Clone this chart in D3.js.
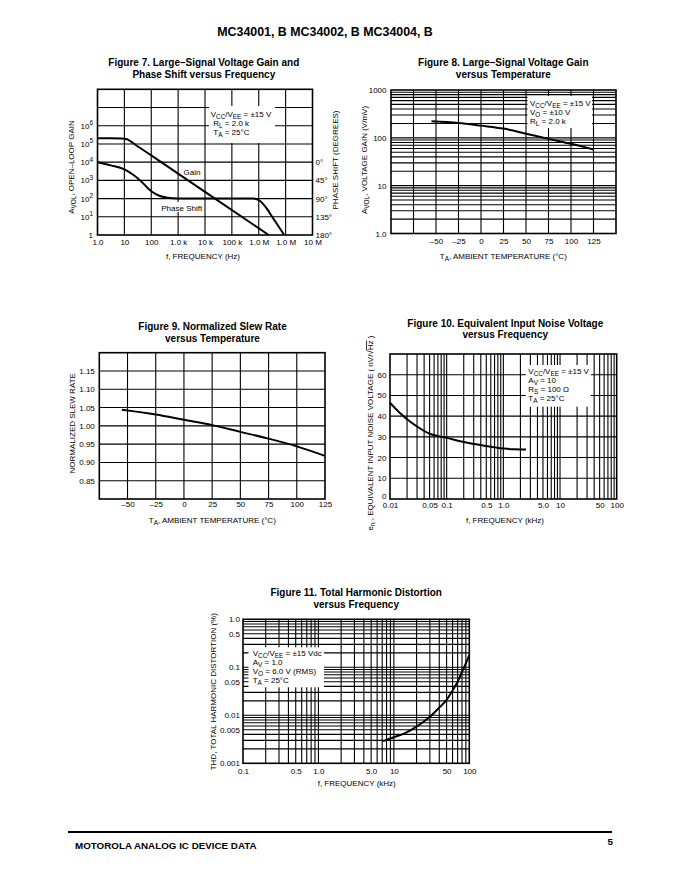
<!DOCTYPE html>
<html><head><meta charset="utf-8">
<script src="https://cdn.jsdelivr.net/npm/d3@7"></script>
<style>body{margin:0;background:#fff}svg{display:block}</style>
</head><body><svg id="c" width="680" height="880"></svg>
<script>
// ---------- DATA ----------
// Figure 7
const f7FreqTicks = [1,10,100,1e3,1e4,1e5,1e6,1e7,1e8];
const f7FreqLabels = ["1.0","10","100","1.0 k","10 k","100 k","1.0 M","1.0 M","10 M"];
const f7GainTicks = [1,10,100,1e3,1e4,1e5,1e6];
const f7GainExp = ["","1","2","3","4","5","6"];
const f7PhaseTicks = [0,45,90,135,180];
const gainFreq = [1,3.16,7.9,12.6,17.8,25.1,100,1e4,2.34e6];
const gainVals = [2.05e5,2.05e5,2.02e5,1.8e5,1.33e5,9.3e4,2.34e4,234,1];
const phaseFreq = [1,3.16,10,20,40,100,200,400,1000,6.3e5,1.12e6,2e6,3.16e6,8.9e6];
const phaseDeg = [0,8,18,30,46,72,83,88,90,90,96,115,135,180];
// Figure 8
const f8TempTicks = [-50,-25,0,25,50,75,100,125];
const f8GainTicks = [1,10,100,1000];
const f8GainLabels = ["1.0","10","100","1000"];
const f8Temp = [-55,-25,0,25,50,75,100,125];
const f8Gain = [222,205,180,156,122,95,75,57];
// Figure 9
const f9TempTicks = [-50,-25,0,25,50,75,100,125];
const f9SlewTicks = [0.85,0.90,0.95,1.00,1.05,1.10,1.15];
const f9Temp = [-55,-25,0,25,50,75,100,125];
const f9Slew = [1.044,1.031,1.0165,1.002,0.9835,0.965,0.944,0.918];
// Figure 10
const f10FreqTicks = [0.01,0.05,0.1,0.5,1,5,10,50,100];
const f10FreqLabels = ["0.01","0.05","0.1","0.5","1.0","5.0","10","50","100"];
const f10NoiseTicks = [0,10,20,30,40,50,60];
const f10Freq = [0.01,0.015,0.02,0.03,0.05,0.1,0.2,0.5,1.0,1.5,2.5];
const f10Noise = [46.5,41.5,38.5,35,31.5,29.5,27.5,25.6,24.4,24,23.9];
// Figure 11
const f11FreqTicks = [0.1,0.5,1,5,10,50,100];
const f11FreqLabels = ["0.1","0.5","1.0","5.0","10","50","100"];
const f11ThdTicks = [0.001,0.005,0.01,0.05,0.1,0.5,1.0];
const f11ThdLabels = ["0.001","0.005","0.01","0.05","0.1","0.5","1.0"];
const f11Freq = [7.2,10,13.4,20,30,40,50,60,70,80,90,100];
const f11Thd = [0.0029,0.0035,0.0041,0.0058,0.0093,0.0145,0.021,0.033,0.05,0.08,0.12,0.18];

// ---------- HELPERS ----------
const NARROW = "'Liberation Sans Narrow','Liberation Sans',Arial,sans-serif";
const BOLD = "'Liberation Sans',Arial,Helvetica,sans-serif";
const svg = d3.select('#c');
svg.append('rect').attr('width',680).attr('height',880).attr('fill','#fff');

function rich(g, x, y, parts, opt={}) {
  const size = opt.size || 8;
  const t = g.append('text').attr('x',x).attr('y',y)
    .attr('font-family',NARROW).attr('font-size',size).attr('fill','#000');
  if (opt.anchor) t.attr('text-anchor',opt.anchor);
  if (opt.transform) t.attr('transform',opt.transform);
  let shift = 0;
  parts.forEach(p => {
    const [s,mode] = Array.isArray(p) ? p : [p,null];
    const sp = t.append('tspan').text(s);
    const target = mode==='sub' ? size*0.3 : mode==='sup' ? -size*0.45 : 0;
    const dy = target - shift;
    if (dy) sp.attr('dy',dy);
    shift = target;
    if (mode==='sub'||mode==='sup') sp.attr('font-size',size*0.8);
    if (mode==='over') sp.attr('text-decoration','overline');
  });
  return t;
}
function logMinor(lo, hi) {
  const out=[]; const a=Math.round(Math.log10(lo)), b=Math.round(Math.log10(hi));
  for (let e=a;e<b;e++) for (let k=1;k<10;k++) out.push(+(k*Math.pow(10,e)).toPrecision(6));
  out.push(hi); return out;
}
function vgrid(g, xs, vals, y0, y1, w=1.1) {
  g.append('g').selectAll('line').data(vals).join('line')
   .attr('x1',d=>xs(d)).attr('x2',d=>xs(d)).attr('y1',y0).attr('y2',y1)
   .attr('stroke','#000').attr('stroke-width',w);
}
function hgrid(g, ys, vals, x0, x1, w=1.1) {
  g.append('g').selectAll('line').data(vals).join('line')
   .attr('y1',d=>ys(d)).attr('y2',d=>ys(d)).attr('x1',x0).attr('x2',x1)
   .attr('stroke','#000').attr('stroke-width',w);
}
function frame(g, xs, ys) {
  const [x0,x1]=xs.range(), [y0,y1]=ys.range();
  g.append('rect').attr('x',Math.min(x0,x1)).attr('y',Math.min(y0,y1))
   .attr('width',Math.abs(x1-x0)).attr('height',Math.abs(y1-y0))
   .attr('fill','none').attr('stroke','#000').attr('stroke-width',1.6);
}
function styleAxis(sel) {
  sel.select('.domain').remove();
  sel.attr('font-family',NARROW).attr('font-size',8);
  sel.selectAll('text').attr('fill','#000');
}
function bottomAxis(g, xs, ticks, labels, y, pad) {
  return g.append('g').attr('transform',`translate(0,${y})`)
   .call(d3.axisBottom(xs).tickValues(ticks).tickFormat((d,i)=>labels?labels[i]:d).tickSize(0).tickPadding(pad))
   .call(styleAxis);
}
function leftAxis(g, ys, ticks, labels, x, pad) {
  return g.append('g').attr('transform',`translate(${x},0)`)
   .call(d3.axisLeft(ys).tickValues(ticks).tickFormat((d,i)=>labels?labels[i]:d).tickSize(0).tickPadding(pad))
   .call(styleAxis);
}
function title(g, cx, y, l1, l2) {
  [l1,l2].forEach((s,i)=>g.append('text').attr('x',cx).attr('y',y+i*11.7)
    .attr('text-anchor','middle').attr('font-family',BOLD).attr('font-weight','bold')
    .attr('font-size',10).attr('fill','#000').text(s));
}
function box(g, x, y, w, h) {
  g.append('rect').attr('x',x).attr('y',y).attr('width',w).attr('height',h).attr('fill','#fff');
}
function curve(g, xs, ys, X, Y, w=2) {
  const pts = X.map((x,i)=>[xs(x), ys(Y[i])]);
  g.append('path').attr('d', d3.line().curve(d3.curveMonotoneX)(pts))
   .attr('fill','none').attr('stroke','#000').attr('stroke-width',w).attr('stroke-linejoin','round');
}
function yTitle(g, x, y, parts) {
  rich(g, 0, 0, parts, {anchor:'middle', transform:`translate(${x},${y}) rotate(-90)`});
}

// ---------- HEADER ----------
svg.append('text').attr('x',325).attr('y',36.3).attr('text-anchor','middle')
  .attr('font-family',BOLD).attr('font-weight','bold').attr('font-size',12.4).attr('fill','#000')
  .text('MC34001, B MC34002, B MC34004, B');

// ---------- FIGURE 7 ----------
{
  const g = svg.append('g');
  const xs = d3.scaleLog().domain([1,1e8]).range([97.5,312.5]);
  const ys = d3.scaleLog().domain([1,1e8]).range([235,89.3]);
  const ps = d3.scaleLinear().domain([0,180]).range([ys(1e4), ys(1)]);
  title(g, 203.8, 66, 'Figure 7. Large–Signal Voltage Gain and', 'Phase Shift versus Frequency');
  vgrid(g, xs, f7FreqTicks.slice(1,-1), 89.3, 235);
  hgrid(g, ys, [10,100,1e3,1e4,1e5,1e6,1e7], 97.5, 312.5);
  box(g, 209, 106, 66, 37);
  rich(g, 210.7, 116.5, ['V',['CC','sub'],'/V',['EE','sub'],' = ±15 V']);
  rich(g, 213.3, 125.5, ['R',['L','sub'],' = 2.0 k']);
  rich(g, 213.3, 135, ['T',['A','sub'],' = 25°C']);
  box(g, 164, 202, 36, 10);
  g.append('text').attr('x',181.7).attr('y',210.5).attr('text-anchor','middle')
    .attr('font-family',NARROW).attr('font-size',8).text('Phase Shift');
  g.append('text').attr('x',192).attr('y',174.5).attr('text-anchor','middle')
    .attr('font-family',NARROW).attr('font-size',8).text('Gain');
  frame(g, xs, ys);
  curve(g, xs, ys, gainFreq, gainVals);
  curve(g, xs, ps, phaseFreq, phaseDeg);
  bottomAxis(g, xs, f7FreqTicks, f7FreqLabels, 235, 4.8);
  const la = g.append('g').attr('transform','translate(97.5,0)')
    .call(d3.axisLeft(ys).tickValues(f7GainTicks).tickFormat(()=> '').tickSize(0).tickPadding(4.5))
    .call(styleAxis);
  la.selectAll('text').each(function(d,i){
    const t=d3.select(this);
    if (i===0) { t.text('1'); return; }
    t.append('tspan').text('10');
    t.append('tspan').attr('dy',-3.6).attr('font-size',6.4).text(f7GainExp[i]);
  });
  g.append('g').attr('transform','translate(312.5,0)')
   .call(d3.axisRight(ps).tickValues(f7PhaseTicks).tickFormat(d=>d+'°').tickSize(0).tickPadding(3))
   .call(styleAxis);
  rich(g, 203, 258.5, ['f, FREQUENCY (Hz)'], {anchor:'middle'});
  yTitle(g, 73.5, 167, ['A',['VOL','sub'],', OPEN–LOOP GAIN']);
  yTitle(g, 338, 160, ['PHASE SHIFT (DEGREES)']);
}

// ---------- FIGURE 8 ----------
{
  const g = svg.append('g');
  const xs = d3.scaleLinear().domain([-100,150]).range([391,616]);
  const ys = d3.scaleLog().domain([1,1000]).range([233.5,90]);
  title(g, 503.3, 66, 'Figure 8. Large–Signal Voltage Gain', 'versus Temperature');
  vgrid(g, xs, [-75,-50,-25,0,25,50,75,100,125], 90, 233.5);
  hgrid(g, ys, logMinor(1,1000).slice(1,-1), 391, 616);
  box(g, 527.5, 96, 64.5, 32);
  rich(g, 530, 105.7, ['V',['CC','sub'],'/V',['EE','sub'],' = ±15 V']);
  rich(g, 530, 114.7, ['V',['O','sub'],' = ±10 V']);
  rich(g, 530, 123.5, ['R',['L','sub'],' = 2.0 k']);
  frame(g, xs, ys);
  curve(g, xs, ys, f8Temp, f8Gain);
  bottomAxis(g, xs, f8TempTicks, f8TempTicks.map(d=>d<0?'–'+(-d):''+d), 233.5, 4.5);
  leftAxis(g, ys, f8GainTicks, f8GainLabels, 391, 4.5);
  rich(g, 503.3, 258.5, ['T',['A','sub'],', AMBIENT TEMPERATURE (°C)'], {anchor:'middle'});
  yTitle(g, 367, 160, ['A',['VOL','sub'],', VOLTAGE GAIN (V/mV)']);
}

// ---------- FIGURE 9 ----------
{
  const g = svg.append('g');
  const xs = d3.scaleLinear().domain([-75,125]).range([99.3,325]);
  const ys = d3.scaleLinear().domain([0.8,1.2]).range([499,352.7]);
  title(g, 212.5, 330, 'Figure 9. Normalized Slew Rate', 'versus Temperature');
  vgrid(g, xs, [-50,-25,0,25,50,75,100], 352.7, 499);
  hgrid(g, ys, f9SlewTicks, 99.3, 325);
  frame(g, xs, ys);
  curve(g, xs, ys, f9Temp, f9Slew);
  bottomAxis(g, xs, f9TempTicks, f9TempTicks.map(d=>d<0?'–'+(-d):''+d), 499, 2.2);
  leftAxis(g, ys, f9SlewTicks, f9SlewTicks.map(d=>d.toFixed(2)), 99.3, 4.5);
  rich(g, 212.3, 522.8, ['T',['A','sub'],', AMBIENT TEMPERATURE (°C)'], {anchor:'middle'});
  yTitle(g, 74.5, 423.3, ['NORMALIZED SLEW RATE']);
}

// ---------- FIGURE 10 ----------
{
  const g = svg.append('g');
  const xs = d3.scaleLog().domain([0.01,100]).range([390,616.7]);
  const ys = d3.scaleLinear().domain([0,70]).range([499,354]);
  title(g, 505.3, 326.7, 'Figure 10. Equivalent Input Noise Voltage', 'versus Frequency');
  vgrid(g, xs, logMinor(0.01,100).slice(1,-1), 354, 499);
  hgrid(g, ys, [10,20,30,40,50,60], 390, 616.7);
  box(g, 525.7, 365, 65, 41.7);
  rich(g, 528.3, 374, ['V',['CC','sub'],'/V',['EE','sub'],' = ±15 V']);
  rich(g, 528.3, 383, ['A',['V','sub'],' = 10']);
  rich(g, 528.3, 391.8, ['R',['S','sub'],' = 100 Ω']);
  rich(g, 528.3, 400.7, ['T',['A','sub'],' = 25°C']);
  frame(g, xs, ys);
  curve(g, xs, ys, f10Freq, f10Noise);
  bottomAxis(g, xs, f10FreqTicks, f10FreqLabels, 499, 3);
  const la = leftAxis(g, ys, f10NoiseTicks, null, 390, 3.5);
  la.selectAll('.tick').filter(d=>d===0).select('text').attr('dy','-0.1em');
  rich(g, 505, 523, ['f, FREQUENCY (kHz)'], {anchor:'middle'});
  yTitle(g, 373, 433, ['e',['n','sub'],' , EQUIVALENT INPUT NOISE VOLTAGE ( nV/√',['Hz','over'],' )']);
}

// ---------- FIGURE 11 ----------
{
  const g = svg.append('g');
  const xs = d3.scaleLog().domain([0.1,100]).range([243,469.3]);
  const ys = d3.scaleLog().domain([0.001,1]).range([763.3,619.3]);
  title(g, 356.2, 596, 'Figure 11. Total Harmonic Distortion', 'versus Frequency');
  vgrid(g, xs, logMinor(0.1,100).slice(1,-1), 619.3, 763.3);
  hgrid(g, ys, logMinor(0.001,1).slice(1,-1), 243, 469.3);
  box(g, 248.5, 647.3, 75.5, 40);
  rich(g, 252.7, 655.7, ['V',['CC','sub'],'/V',['EE','sub'],' = ±15 Vdc']);
  rich(g, 252.7, 665, ['A',['V','sub'],' = 1.0']);
  rich(g, 252.7, 674, ['V',['O','sub'],' = 6.0 V (RMS)']);
  rich(g, 252.7, 683, ['T',['A','sub'],' = 25°C']);
  frame(g, xs, ys);
  curve(g, xs, ys, f11Freq, f11Thd);
  bottomAxis(g, xs, f11FreqTicks, f11FreqLabels, 763.3, 5.3);
  leftAxis(g, ys, f11ThdTicks, f11ThdLabels, 243, 3);
  rich(g, 356.7, 786, ['f, FREQUENCY (kHz)'], {anchor:'middle'});
  yTitle(g, 215.5, 691.7, ['THD, TOTAL HARMONIC DISTORTION (%)']);
}

// ---------- FOOTER ----------
svg.append('line').attr('x1',68).attr('x2',612).attr('y1',832).attr('y2',832)
  .attr('stroke','#000').attr('stroke-width',2);
svg.append('text').attr('x',75).attr('y',849).attr('font-family',BOLD).attr('font-weight','bold')
  .attr('font-size',9.8).attr('fill','#000').text('MOTOROLA ANALOG IC DEVICE DATA');
svg.append('text').attr('x',613).attr('y',845).attr('text-anchor','end').attr('font-family',BOLD)
  .attr('font-weight','bold').attr('font-size',9.8).attr('fill','#000').text('5');
</script></body></html>
